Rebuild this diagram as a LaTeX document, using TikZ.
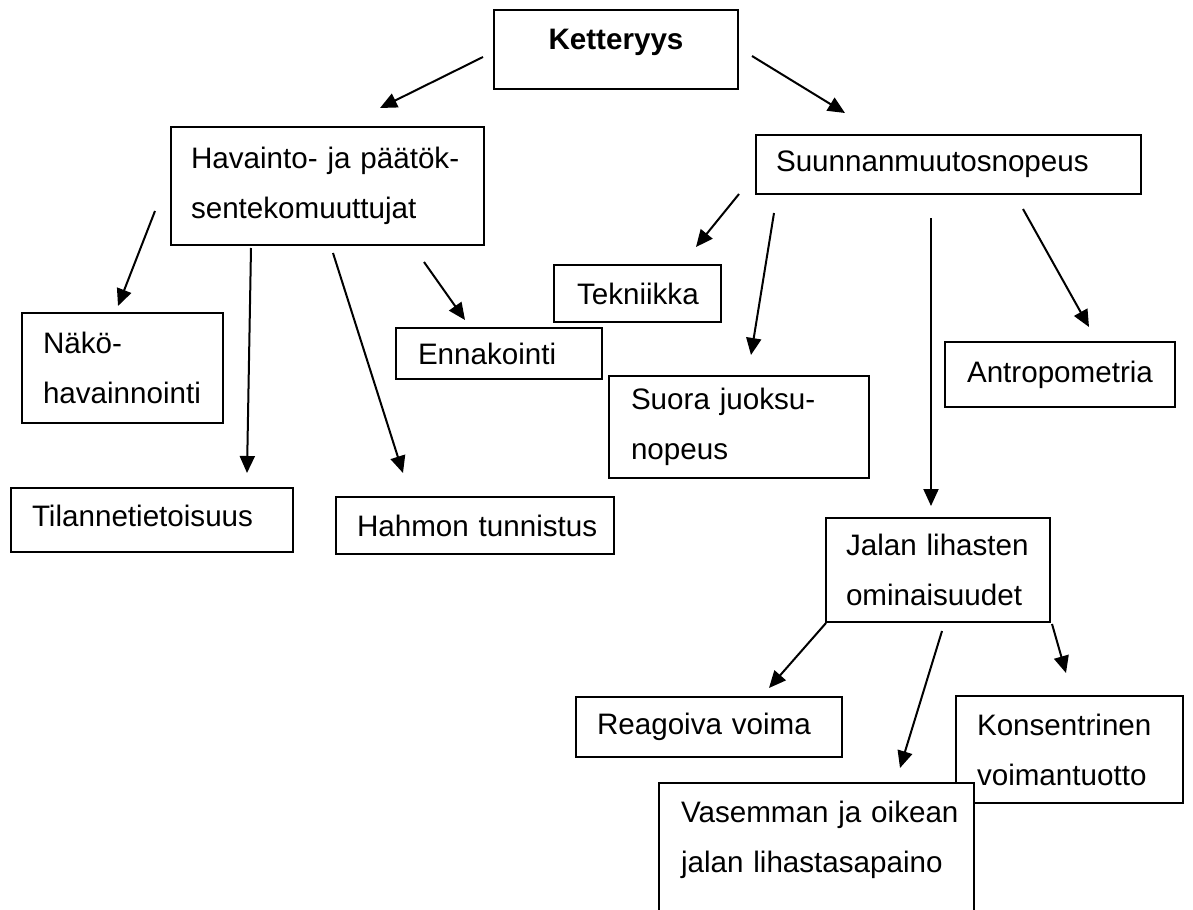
\documentclass[tikz,border=0pt]{standalone}
\usepackage{fontspec}
\setmainfont{Liberation Sans}
\usetikzlibrary{arrows.meta}
\newcommand\oneline[1]{\mbox{#1}}
\tikzset{
  box/.style={draw=black, line width=1.6bp, fill=white, rectangle, anchor=north west,
    inner xsep=21bp, inner ysep=0pt, outer sep=0pt, align=left,
    font=\fontsize{29.6bp}{50bp}\selectfont},
  arr/.style={line width=2bp, -{Triangle[length=17bp,width=15bp]}},
}
\begin{document}
\begin{tikzpicture}[x=1bp,y=-1bp]
\fill[white] (0,0) rectangle (1193,910);
\clip (0,0) rectangle (1193,910);

% boxes
\node[box, inner xsep=10bp, text width=224bp, minimum height=79bp, align=center,
      text height=21bp, text depth=20.5bp] (kett) at (494,10) {\bfseries Ketteryys};
\node[box, inner xsep=20bp, text width=273bp, minimum height=118bp] (hav) at (171,127)
  {\oneline{Havainto- ja päätök-}\\\oneline{sentekomuuttujat}};
\node[box, inner xsep=20bp, text width=345bp, minimum height=59bp] (suun) at (756,135)
  {\oneline{Suunnanmuutosnopeus}};
\node[box, inner xsep=21bp, text width=159bp, minimum height=110bp] (nako) at (22,313)
  {\oneline{Näkö-}\\\oneline{havainnointi}};
\node[box, inner xsep=23bp, text width=121bp, minimum height=57bp] (tek) at (554,265)
  {\oneline{Tekniikka}};
\node[box, inner xsep=22bp, text width=162bp, minimum height=51bp] (enn) at (396,328)
  {\oneline{Ennakointi}};
\node[box, inner xsep=22bp, text width=216bp, minimum height=102bp] (suora) at (609,376)
  {\oneline{Suora juoksu-}\\\oneline{nopeus}};
\node[box, inner xsep=22bp, text width=186bp, minimum height=65bp] (antro) at (945,342)
  {\oneline{Antropometria}};
\node[box, inner xsep=21bp, text width=240bp, minimum height=64bp, text depth=9bp] (til) at (11,488)
  {\oneline{Tilannetietoisuus}};
\node[box, inner xsep=21bp, text width=236bp, minimum height=57bp] (hahmo) at (336,497)
  {\oneline{Hahmon tunnistus}};
\node[box, inner xsep=20bp, text width=184bp, minimum height=104bp] (jalan) at (826,518)
  {\oneline{Jalan lihasten}\\\oneline{ominaisuudet}};
\node[box, inner xsep=21bp, text width=224bp, minimum height=60bp] (reag) at (576,697)
  {\oneline{Reagoiva voima}};
\node[box, inner xsep=21bp, text width=185bp, minimum height=107bp] (kons) at (956,696)
  {\oneline{Konsentrinen}\\\oneline{voimantuotto}};
\node[box, inner xsep=22bp, text width=271bp, minimum height=172bp] (vas) at (659,783)
  {\oneline{Vasemman ja oikean}\\\oneline{jalan lihastasapaino}\\\strut};

% connector end points
\coordinate (a1s) at (483,57);   \coordinate (a1e) at (380,108);
\coordinate (a2s) at (752,56);   \coordinate (a2e) at (845,113);
\coordinate (a3s) at (155,211);  \coordinate (a3e) at (118,306);
\coordinate (a4s) at (251,248);  \coordinate (a4e) at (247,473);
\coordinate (a5s) at (333,253);  \coordinate (a5e) at (403,473);
\coordinate (a6s) at (424,262);  \coordinate (a6e) at (465,320);
\coordinate (a7s) at (739,194);  \coordinate (a7e) at (696,247);
\coordinate (a8s) at (774,213);  \coordinate (a8e) at (751,355);
\coordinate (a9s) at (931,218);  \coordinate (a9e) at (931,506);
\coordinate (a10s) at (1023,209); \coordinate (a10e) at (1089,327);
\coordinate (a11s) at (826,623); \coordinate (a11e) at (769,688);
\coordinate (a12s) at (942,631); \coordinate (a12e) at (900,768);
\coordinate (a13s) at (1052,624); \coordinate (a13e) at (1066,673);

% connectors
\draw[arr] (a1s) -- (a1e);
\draw[arr] (a2s) -- (a2e);
\draw[arr] (a3s) -- (a3e);
\draw[arr] (a4s) -- (a4e);
\draw[arr] (a5s) -- (a5e);
\draw[arr] (a6s) -- (a6e);
\draw[arr] (a7s) -- (a7e);
\draw[arr] (a8s) -- (a8e);
\draw[arr] (a9s) -- (a9e);
\draw[arr] (a10s) -- (a10e);
\draw[arr] (a11s) -- (a11e);
\draw[arr] (a12s) -- (a12e);
\draw[arr] (a13s) -- (a13e);
\end{tikzpicture}
\end{document}
